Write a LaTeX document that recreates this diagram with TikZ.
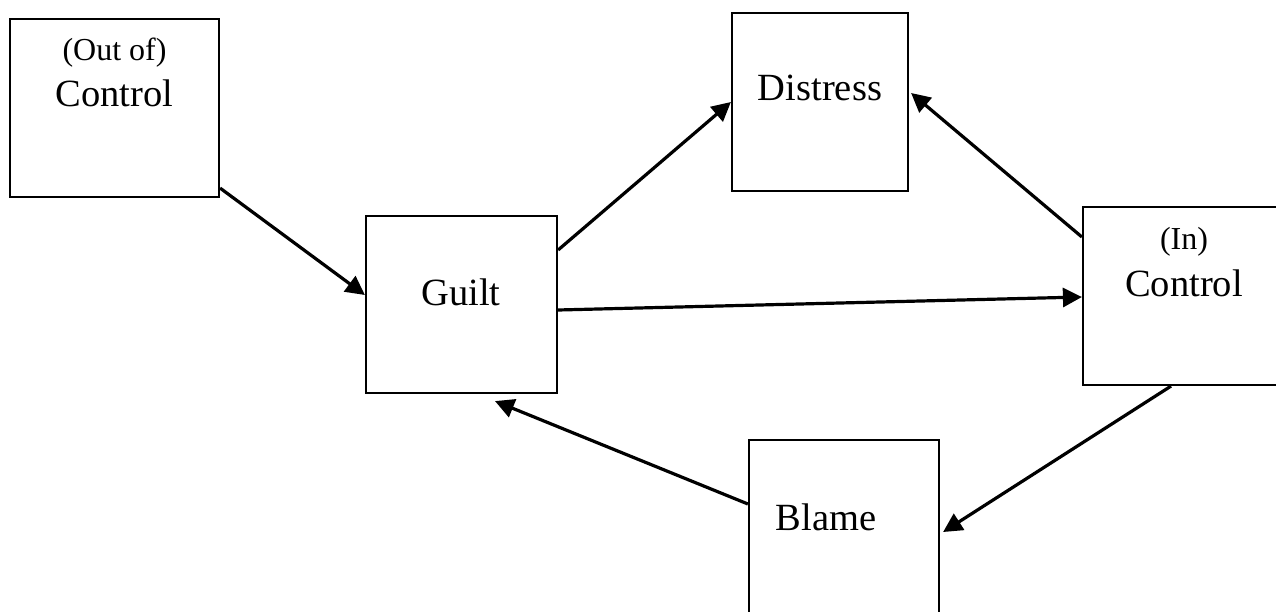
\documentclass[tikz,border=0pt]{standalone}
\usepackage{fontspec}
\setmainfont{Liberation Serif}
\usetikzlibrary{arrows.meta}
\begin{document}
\begin{tikzpicture}[x=1pt,y=-1pt,
  box/.style={draw=black,line width=2.2pt,rectangle,inner sep=0pt},
  big/.style={inner sep=0pt,font=\fontsize{38.5}{40}\selectfont},
  small/.style={inner sep=0pt,font=\fontsize{32}{34}\selectfont},
  arr/.style={line width=3.2pt,-{Triangle[length=19pt,width=19pt]}}]
\useasboundingbox[fill=white] (0,0) rectangle (1276,612);
% boxes
\node[box,minimum width=209pt,minimum height=178pt] (ooc) at (114.5,108) {};
\node[box,minimum width=176pt,minimum height=178pt] (distress) at (820,102) {};
\node[box,minimum width=191pt,minimum height=177pt] (guilt) at (461.5,304.5) {};
\node[box,minimum width=202pt,minimum height=178pt] (inc) at (1184,296) {};
\node[box,minimum width=190pt,minimum height=178pt] (blame) at (844,529) {};
% texts
\node[small] (ooct) at (114.5,53) {(Out of)};
\node[big] (oocc) at (114.5,93) {Control};
\node[big] (distresst) at (820,88) {Distress};
\node[big] (guiltt) at (461,292) {Guilt};
\node[small] (inct) at (1184,242) {(In)};
\node[big] (incc) at (1184,283) {Control};
\node[big] (blamet) at (826,517) {Blame};
% arrows
\draw[arr] ([yshift=10pt]ooc.south east) -- ([yshift=9.5pt]guilt.west);
\draw[arr] ([yshift=54.5pt]guilt.east) -- (distress.west);
\draw[arr] ([yshift=-5.5pt]guilt.east) -- ([yshift=-1pt]inc.west);
\draw[arr] ([yshift=59pt]inc.west) -- ([yshift=9pt,xshift=2pt]distress.east);
\draw[arr] ([xshift=-13pt]inc.south) -- ([yshift=-3pt,xshift=3pt]blame.east);
\draw[arr] ([yshift=25pt]blame.west) -- ([xshift=33.5pt,yshift=-7pt]guilt.south);
\end{tikzpicture}
\end{document}
